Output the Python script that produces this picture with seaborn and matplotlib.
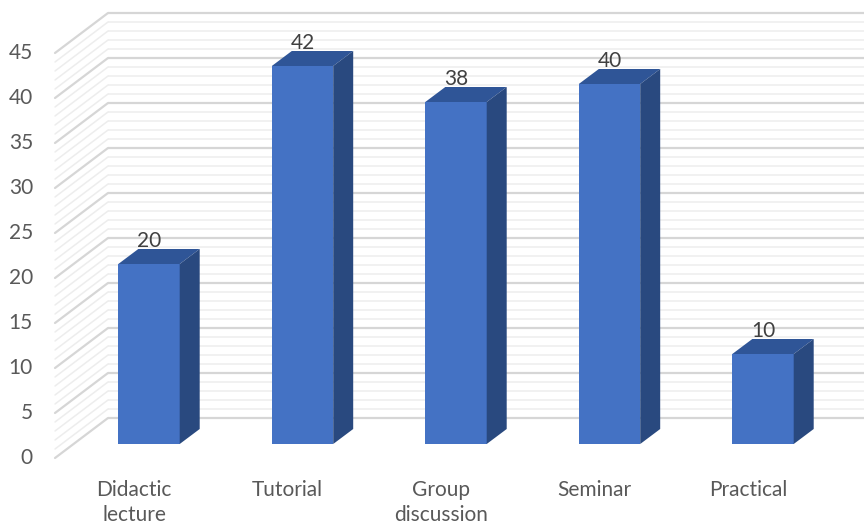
import matplotlib
matplotlib.use("Agg")
import matplotlib.pyplot as plt
from matplotlib.patches import Polygon
import seaborn as sns
import pandas as pd
import numpy as np

categories = ["Didactic\nlecture", "Tutorial", "Group\ndiscussion", "Seminar", "Practical"]
values = [20, 42, 38, 40, 10]
yticks = [0, 5, 10, 15, 20, 25, 30, 35, 40, 45]

sns.set_theme(style="white")
plt.rcParams['font.family'] = ['Lato', 'DejaVu Sans']

W, H = 864, 526
fig = plt.figure(figsize=(W / 100, H / 100), dpi=100)
ax = fig.add_axes([0, 0, 1, 1])

# pixel geometry helpers
cx0, spacing = 149.0, 153.5      # first bar centre, category spacing (px)
y0_px, ppu = 444.0, 9.0          # bar-front zero line (px), px per unit

def px_x(p):
    return (p - cx0) / spacing

def px_dx(d):
    return d / spacing

def px_dy(d):
    return -d / ppu

def set_limits():
    ax.set_xlim(px_x(0), px_x(W))
    ax.set_ylim((y0_px - H) / ppu, y0_px / ppu)
    ax.axis("off")

set_limits()

# back wall / side wall gridlines
back_x, back_dy = px_x(108), px_dy(-26)
front_x, front_dy = px_x(55), px_dy(14)
xr = px_x(W + 5)
for v in range(0, 46):
    major = v % 5 == 0
    col = "#d6d6d6" if major else "#ededed"
    lw = 1.6 if major else 1.1
    ax.plot([back_x, xr], [v + back_dy, v + back_dy], color=col, lw=lw, zorder=1,
            solid_capstyle="butt")
    ax.plot([front_x, back_x], [v + front_dy, v + back_dy], color=col, lw=lw, zorder=1)

df = pd.DataFrame({"cat": categories, "val": values})
sns.barplot(data=df, x="cat", y="val", color="#4472C4", width=0.40, saturation=1,
            linewidth=0, ax=ax, zorder=3)
set_limits()

ddx, ddy = px_dx(20), px_dy(-15)
for p, v in zip(ax.patches, values):
    x0, w, h = p.get_x(), p.get_width(), p.get_height()
    top = Polygon([(x0, h), (x0 + w, h), (x0 + w + ddx, h + ddy), (x0 + ddx, h + ddy)],
                  closed=True, facecolor="#2f5597", edgecolor="none", zorder=4)
    side = Polygon([(x0 + w, 0), (x0 + w + ddx, ddy), (x0 + w + ddx, h + ddy), (x0 + w, h)],
                   closed=True, facecolor="#29497f", edgecolor="none", zorder=4)
    ax.add_patch(top)
    ax.add_patch(side)
    ax.text(x0 + w / 2, h + ddy - 0.25, f"{v}", ha="center", va="bottom",
            fontsize=15, color="#404040", zorder=5)

# y tick labels (front plane)
for t in yticks:
    ax.text(px_x(33), t + front_dy, str(t), ha="right", va="center",
            fontsize=15, color="#595959")

# category labels (front plane)
for i, c in enumerate(categories):
    ax.text(i + px_dx(-15), px_dy(480 - y0_px), c, ha="center", va="top",
            fontsize=15, color="#595959", linespacing=1.3)

fig.savefig("out.png", dpi=100)
